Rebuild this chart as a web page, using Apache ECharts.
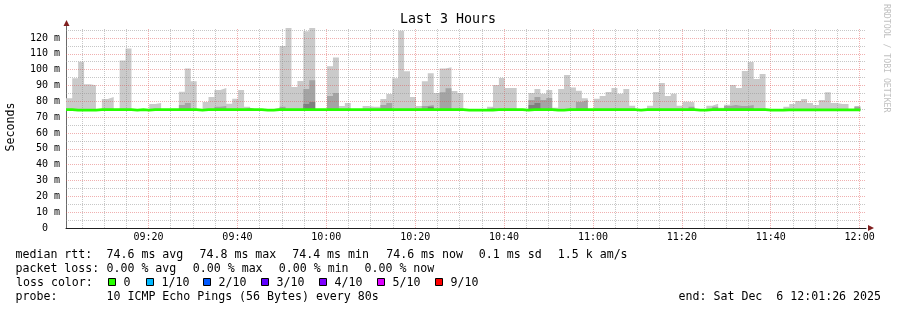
<!DOCTYPE html>
<html><head><meta charset="utf-8">
<script src="https://cdn.jsdelivr.net/npm/echarts@6/dist/echarts.min.js"></script>
<style>html,body{margin:0;padding:0;background:#fff}#c{width:897px;height:310px}</style>
</head><body><div id="c"></div>
<script>
// ---- time axis (minutes after 09:00) ----
const startMin = 1 + 26/60;        // 09:01:26
const endMin = 181 + 26/60;        // 12:01:26
const firstStepStart = 2 + 50/60;  // first full 80 s step starts 09:02:50
const stepMin = 80/60;             // 80 s steps
const timeTicks = [20, 40, 60, 80, 100, 120, 140, 160, 180];
const tickLabels = ['09:20','09:40','10:00','10:20','10:40','11:00','11:20','11:40','12:00'];
const yTicks = [0,10,20,30,40,50,60,70,80,90,100,110,120];
const yTickLabels = ['0  ','10 m','20 m','30 m','40 m','50 m','60 m','70 m','80 m','90 m','100 m','110 m','120 m'];

// ---- smoke (ms): outer max, middle band, inner band; median rtt ----
const smokeMax = [
 81.9,94.6,105.0,90.8,90.2,75.0,81.5,82.7,75.0,105.8,
 113.3,75.0,75.0,75.0,78.3,79.0,75.0,75.0,75.0,86.0,
 100.8,92.7,75.0,79.6,82.7,87.2,88.4,78.4,81.6,87.2,
 76.6,75.0,75.0,75.0,75.0,75.9,115.0,126.3,89.1,92.8,
 124.2,126.3,75.0,75.0,102.1,107.7,77.1,79.0,75.0,75.0,
 77.1,76.5,76.5,81.5,84.6,94.6,124.6,99.0,82.7,77.1,
 92.7,97.7,85.2,100.8,101.5,86.5,85.2,75.0,75.0,75.0,
 75.0,76.6,90.3,94.7,88.4,88.4,75.0,75.0,85.3,87.8,
 84.7,87.2,75.9,87.8,96.6,88.7,86.6,81.9,75.0,81.6,
 83.4,85.9,88.4,84.7,87.8,77.2,75.0,75.0,77.2,85.9,
 91.6,83.4,84.7,77.2,79.7,79.4,75.0,75.0,77.2,78.4,
 76.0,77.8,90.3,88.4,99.1,104.8,94.1,97.2,75.0,75.0,
 75.0,76.5,78.3,80.2,81.5,79.0,77.7,80.8,85.8,79.0,
 78.3,78.3,75.0,77.1
];
const smokeMid = [
 75,75,75,75,75,75,75,75,75,75,
 75,75,75,75,75,75,75,75,75,77.7,
 79.0,75,75,75,75,76.5,77.1,75,75,75,
 76.0,75,75,75,75,75,76.5,75,75,75,
 87.7,93.3,75,75,83.3,85.2,75,75,75,75,
 75,75,75,77.7,79.0,75,75,75,75,75,
 77.1,77.7,75,85.8,88.3,75,75,75,75,75,
 75,76.0,75,75,75,75,75,75,80.8,82.7,
 80.8,82.1,75,75,75,75,79.6,80.8,75,75,
 75,75,75,75,75,75,75,75,75,75,
 75,75,75,75,75,76.5,75,75,75,76.5,
 75,77.0,77.7,77.1,77.1,77.7,75,75,75,75,
 75,75,75,75,75,75,75,75,75,75,
 75,75,75,76.5
];
const smokeInner = [
 75,75,75,75,75,75,75,75,75,75,
 75,75,75,75,75,75,75,75,75,75,
 75,75,75,75,75,75,75,75,75,75,
 75,75,75,75,75,75,75,75,75,75,
 78.3,79.6,75,75,75,75,75,75,75,75,
 75,75,75,75,75,75,75,75,75,75,
 75,76.5,75,75,75,75,75,75,75,75,
 75,75,75,75,75,75,75,75,77.7,79.0,
 75,75,75,75,75,75,75,75,75,75,
 75,75,75,75,75,75,75,75,75,75,
 75,75,75,75,75,75,75,75,75,75,
 75,75,75,75,75,75,75,75,75,75,
 75,75,75,75,75,75,75,75,75,75,
 75,75,75,75
];
const median = [
 74.8,74.4,74.4,74.4,74.4,74.8,74.8,74.8,74.8,74.8,
 74.8,74.4,74.8,74.4,74.7,74.7,74.7,74.7,74.7,74.7,
 74.7,74.7,74.5,74.7,74.7,74.7,74.7,74.7,74.7,74.7,
 74.7,74.7,74.7,74.4,74.4,74.7,74.7,74.7,74.7,74.7,
 74.7,74.7,74.7,74.7,74.7,74.7,74.7,74.7,74.7,74.7,
 74.7,74.7,74.7,74.7,74.7,74.7,74.7,74.7,74.7,74.7,
 74.7,74.7,74.7,74.7,74.7,74.7,74.7,74.4,74.4,74.4,
 74.4,74.4,74.7,74.7,74.7,74.7,74.7,74.4,74.7,74.7,
 74.7,74.7,74.4,74.4,74.7,74.7,74.7,74.7,74.7,74.7,
 74.7,74.7,74.7,74.7,74.7,74.7,74.4,74.8,74.7,74.7,
 74.7,74.7,74.7,74.7,74.7,74.7,74.4,74.4,74.7,74.7,
 74.7,74.7,74.7,74.7,74.7,74.7,74.7,74.7,74.4,74.4,
 74.4,74.6,74.6,74.6,74.6,74.6,74.6,74.6,74.6,74.6,
 74.6,74.6,74.6,74.6
];

// ---- legend (text segments and their left positions) ----
const rttSegments = ['median rtt:','74.6 ms avg','74.8 ms max','74.4 ms min','74.6 ms now','0.1 ms sd','1.5 k am/s'];
const rttSegX = [16, 107, 200, 292.7, 386.7, 479.3, 558.3];
const lossSegments = ['packet loss:','0.00 % avg','0.00 % max','0.00 % min','0.00 % now'];
const lossSegX = [16, 107, 193.3, 279.3, 365];
const lossLabels = ['0','1/10','2/10','3/10','4/10','5/10','9/10'];
const lossColors = ['#26ff00','#00b8ff','#0059ff','#5e00ff','#7e00ff','#dd00ff','#ff0000'];
const lossBoxX = [108, 146, 203, 261, 319, 377, 435];
const probeSegments = ['probe:','10 ICMP Echo Pings (56 Bytes) every 80s'];
const probeSegX = [16, 107];
const endText = 'end: Sat Dec  6 12:01:26 2025';

const MONO = '"DejaVu Sans Mono", monospace';
const GRID_MINOR = 'rgba(143,143,143,0.5)';
const GRID_MAJOR = 'rgba(222,80,80,0.45)';
const LEG_FONT = '11.6px ' + MONO;

function xStart(j){ return j === 0 ? startMin : firstStepStart + (j-1)*stepMin; }
function toPts(arr){
  const p = arr.map((v,j) => [xStart(j), v]);
  p.push([firstStepStart + (arr.length-1)*stepMin, arr[arr.length-1]]);
  return p;
}
function smoke(arr, color, z){
  return {type:'line', step:'end', data: toPts(arr), symbol:'none', showSymbol:false,
    lineStyle:{width:0, opacity:0}, areaStyle:{color:color, opacity:1, origin:74},
    z:z, silent:true, animation:false};
}
function txt(x, y, text, font, align, extra){
  return Object.assign({type:'text', x:x, y:y, silent:true,
    style:{text:text, font:font, fill:'#000', align:align, verticalAlign:'middle', textAlign:align, textVerticalAlign:'middle'}}, extra || {});
}

const gridLines = [];
for (let m = 5; m <= 180; m += 5) {
  gridLines.push({xAxis: m, lineStyle:{color: m % 20 === 0 ? GRID_MAJOR : GRID_MINOR, type:[1,1], width:1}});
}
for (let v = 5; v <= 125; v += 5) {
  gridLines.push({yAxis: v, lineStyle:{color: v % 10 === 0 ? GRID_MAJOR : GRID_MINOR, type:[1,1], width:1}});
}

const graphics = [
  txt(448, 19.5, 'Last 3 Hours', '13.3px ' + MONO, 'center'),
  txt(11, 127, 'Seconds', '11.6px ' + MONO, 'center', {rotation: Math.PI/2}),
  {type:'text', x:886, y:4, rotation:-Math.PI/2, silent:true,
    style:{text:'RRDTOOL / TOBI OETIKER', font:'8.2px ' + MONO, fill:'#c0c0c0', align:'left', verticalAlign:'middle', textAlign:'left', textVerticalAlign:'middle'}},
  txt(881, 296.5, endText, LEG_FONT, 'right'),
  txt(16, 282.5, 'loss color:', LEG_FONT, 'left'),
  // axis arrows
  {type:'polyline', silent:true, shape:{points:[[66.5,28],[66.5,24]]}, style:{stroke:'#6a6a6a', lineWidth:1}},
  {type:'polygon', silent:true, shape:{points:[[63.5,26],[69.5,26],[66.5,20]]}, style:{fill:'#801f1f'}},
  {type:'polygon', silent:true, shape:{points:[[868,225],[868,231],[874,228]]}, style:{fill:'#801f1f'}}
];
rttSegments.forEach((s,i) => graphics.push(txt(rttSegX[i]-0.5, 254.5, s, LEG_FONT, 'left')));
lossSegments.forEach((s,i) => graphics.push(txt(lossSegX[i]-0.5, 268.5, s, LEG_FONT, 'left')));
probeSegments.forEach((s,i) => graphics.push(txt(probeSegX[i]-0.5, 296.5, s, LEG_FONT, 'left')));
lossLabels.forEach((lab, i) => {
  graphics.push({type:'rect', silent:true, shape:{x:lossBoxX[i]+0.5, y:278.5, width:7, height:7}, style:{fill:lossColors[i], stroke:'#000', lineWidth:1}});
  graphics.push(txt(lossBoxX[i]+15.5, 282.5, lab, LEG_FONT, 'left'));
});

const chart = echarts.init(document.getElementById('c'), null, {renderer:'canvas'});
chart.setOption({
  animation:false,
  backgroundColor:'#ffffff',
  grid:{left:66, right:31, top:28, bottom:82, containLabel:false},
  xAxis:{type:'value', min:startMin, max:endMin,
    axisLine:{show:true, lineStyle:{color:'#1f1f1f', width:1}},
    axisTick:{show:false}, splitLine:{show:false},
    axisLabel:{customValues:timeTicks, margin:4, fontFamily:MONO, fontSize:10, color:'#000',
      formatter:(v) => { const i = timeTicks.indexOf(Math.round(v)); return i >= 0 ? tickLabels[i] : ''; }}
  },
  yAxis:{type:'value', min:0, max:126.3,
    axisLine:{show:true, lineStyle:{color:'#6a6a6a', width:1}},
    axisTick:{show:false}, splitLine:{show:false},
    axisLabel:{customValues:yTicks, margin:6, fontFamily:MONO, fontSize:10, color:'#000',
      formatter:(v) => { const i = yTicks.indexOf(Math.round(v)); return i >= 0 ? yTickLabels[i] : ''; }}
  },
  graphic: graphics,
  series:[
    smoke(smokeMax, '#cacaca', 1),
    smoke(smokeMid, '#a4a4a4', 2),
    smoke(smokeInner, '#7e7e7e', 3),
    {type:'line', data:[[startMin, 0]], symbol:'none', lineStyle:{width:0, opacity:0}, silent:true, z:4,
      markLine:{silent:true, symbol:['none','none'], label:{show:false}, animation:false, z:4, data:gridLines}},
    {type:'line', step:'end', data: toPts(median), symbol:'none', showSymbol:false,
      lineStyle:{width:2.8, color:'#26ff00'}, z:6, silent:true, animation:false}
  ]
});
</script></body></html>
